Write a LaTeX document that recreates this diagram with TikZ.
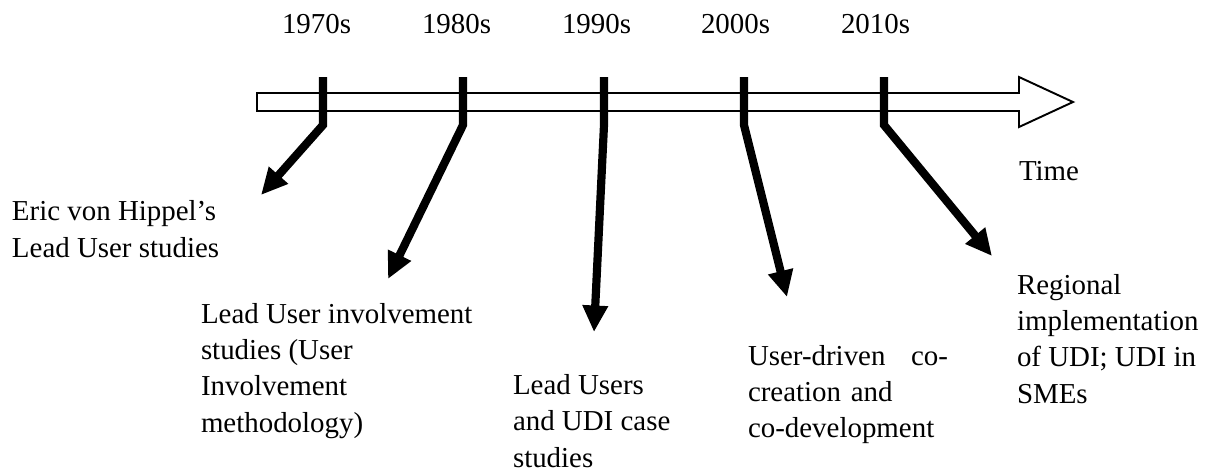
\documentclass[tikz,border=0pt]{standalone}
\usepackage{fontspec}
\setmainfont{Liberation Serif}
\usetikzlibrary{arrows.meta}
\begin{document}
\begin{tikzpicture}[x=0.415pt,y=-0.415pt,
  lbl/.style={inner sep=0pt, outer sep=0pt, anchor=base west, align=left, font=\fontsize{12}{15}\selectfont},
  timebar/.style={draw=black, line width=0.8pt, fill=white, line join=miter},
  tickarrow/.style={line width=3.4pt, line join=miter, -{Triangle[width=10pt,length=11pt]}}]
\useasboundingbox (0,0) rectangle (1219,472);

% timeline arrow
\draw[timebar] (257,93) -- (1019,93) -- (1019,77) -- (1073,102) -- (1019,127) -- (1019,111) -- (257,111) -- cycle;

% year labels
\node[lbl] (y1) at (282,33) {1970s};
\node[lbl] (y2) at (422,33) {1980s};
\node[lbl] (y3) at (562,33) {1990s};
\node[lbl] (y4) at (701,33) {2000s};
\node[lbl] (y5) at (841,33) {2010s};
\node[lbl] (time) at (1019,180) {Time};

% tick coordinates
\coordinate (t1) at (323,77);  \coordinate (b1) at (323,125);
\coordinate (t2) at (463,77);  \coordinate (b2) at (463,125);
\coordinate (t3) at (604,77);  \coordinate (b3) at (604,125);
\coordinate (t4) at (744,77);  \coordinate (b4) at (744,125);
\coordinate (t5) at (884,77);  \coordinate (b5) at (884,125);

% arrow tips
\coordinate (e1) at (261,195);
\coordinate (e2) at (388,279);
\coordinate (e3) at (594,332);
\coordinate (e4) at (787,297);
\coordinate (e5) at (992,256);

\draw[tickarrow] (t1) -- (b1) -- (e1);
\draw[tickarrow] (t2) -- (b2) -- (e2);
\draw[tickarrow] (t3) -- (b3) -- (e3);
\draw[tickarrow] (t4) -- (b4) -- (e4);
\draw[tickarrow] (t5) -- (b5) -- (e5);

% event labels (anchored at the baseline of the last line)
\node[lbl] (l1) at (12,257) {Eric von Hippel's\\Lead User studies};
\node[lbl] (l2) at (201,432) {Lead User involvement\\studies (User\\Involvement\\methodology)};
\node[lbl] (l3) at (513,467) {Lead Users\\and UDI case\\studies};
\node[lbl, text width=83pt] (l4) at (748,365) {User-driven\hfill co-\\creation and\\co-development};
\node[lbl] (l5) at (1017,403) {Regional\\implementation\\of UDI; UDI in\\SMEs};
\end{tikzpicture}
\end{document}
